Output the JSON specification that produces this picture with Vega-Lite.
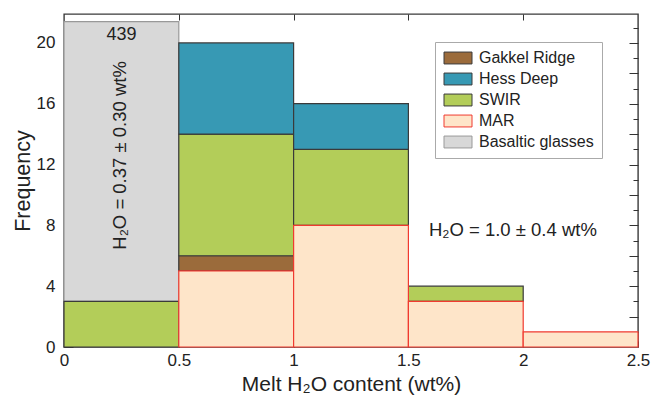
{
  "$schema": "https://vega.github.io/schema/vega-lite/v6.json",
  "width": 574,
  "height": 333,
  "autosize": {"type": "none"},
  "padding": {"left": 64, "top": 14, "right": 13, "bottom": 49},
  "config": {
    "view": {"stroke": "#3a3a3a", "strokeWidth": 1.4},
    "font": "Liberation Sans",
    "text": {"font": "Liberation Sans"}
  },
  "data": {
    "values": [
      {"bin_start": 0, "bin_end": 0.5, "low": 3, "high": 21.4, "source": "Basaltic glasses"},
      {"bin_start": 0, "bin_end": 0.5, "low": 0, "high": 3, "source": "SWIR"},
      {"bin_start": 0.5, "bin_end": 1, "low": 5, "high": 6, "source": "Gakkel Ridge"},
      {"bin_start": 0.5, "bin_end": 1, "low": 6, "high": 14, "source": "SWIR"},
      {"bin_start": 0.5, "bin_end": 1, "low": 14, "high": 20, "source": "Hess Deep"},
      {"bin_start": 1, "bin_end": 1.5, "low": 8, "high": 13, "source": "SWIR"},
      {"bin_start": 1, "bin_end": 1.5, "low": 13, "high": 16, "source": "Hess Deep"},
      {"bin_start": 1.5, "bin_end": 2, "low": 3, "high": 4, "source": "SWIR"},
      {"bin_start": 0.5, "bin_end": 1, "low": 0, "high": 5, "source": "MAR"},
      {"bin_start": 1, "bin_end": 1.5, "low": 0, "high": 8, "source": "MAR"},
      {"bin_start": 1.5, "bin_end": 2, "low": 0, "high": 3, "source": "MAR"},
      {"bin_start": 2, "bin_end": 2.5, "low": 0, "high": 1, "source": "MAR"}
    ]
  },
  "layer": [
    {
      "mark": {"type": "rect", "strokeWidth": 1.2},
      "encoding": {
        "x": {
          "field": "bin_start", "type": "quantitative",
          "scale": {"domain": [0, 2.5], "nice": false, "zero": false},
          "axis": {
            "orient": "bottom", "values": [0, 0.5, 1, 1.5, 2, 2.5], "format": "~g",
            "grid": false, "domain": false, "tickSize": -6, "tickColor": "#333",
            "labelFontSize": 17, "labelColor": "#222", "labelPadding": 11, "labelFlush": false,
            "title": "Melt H₂O content (wt%)", "titleFontSize": 21, "titleFontWeight": "normal",
            "titleColor": "#222", "titlePadding": 5
          }
        },
        "x2": {"field": "bin_end"},
        "y": {
          "field": "low", "type": "quantitative",
          "scale": {"domain": [0, 21.9], "nice": false, "zero": false},
          "axis": {
            "orient": "left",
            "values": [0,1,2,3,4,5,6,7,8,9,10,11,12,13,14,15,16,17,18,19,20,21],
            "labelExpr": "datum.value % 4 === 0 ? datum.label : ''",
            "grid": false, "domain": false,
            "tickSize": {"condition": {"test": "datum.value % 2 === 0", "value": -9}, "value": -5},
            "tickColor": "#333",
            "labelFontSize": 17, "labelColor": "#222", "labelPadding": 18,
            "title": "Frequency", "titleFontSize": 21.5, "titleFontWeight": "normal",
            "titleColor": "#222", "titlePadding": 2
          }
        },
        "y2": {"field": "high"},
        "fill": {
          "field": "source", "type": "nominal",
          "scale": {
            "domain": ["Gakkel Ridge", "Hess Deep", "SWIR", "MAR", "Basaltic glasses"],
            "range": ["#9b6b3b", "#3799b4", "#b3cd59", "#fee5c9", "#d8d8d8"]
          },
          "legend": {
            "orient": "none", "legendX": 371, "legendY": 28, "title": null,
            "padding": 8, "strokeColor": "#aaa", "fillColor": "white",
            "labelFontSize": 16, "labelColor": "#222", "labelOffset": 13,
            "symbolType": "M-2,-0.85H2V0.85H-2Z", "symbolSize": 196, "symbolOffset": 7,
            "symbolStrokeWidth": 1, "rowPadding": 5
          }
        },
        "stroke": {
          "field": "source", "type": "nominal",
          "scale": {
            "domain": ["Gakkel Ridge", "Hess Deep", "SWIR", "MAR", "Basaltic glasses"],
            "range": ["#3a3a3a", "#3a3a3a", "#3a3a3a", "#f03a30", "#999999"]
          }
        },
        "strokeDash": {
          "field": "source", "type": "nominal",
          "scale": {
            "domain": ["Gakkel Ridge", "Hess Deep", "SWIR", "MAR", "Basaltic glasses"],
            "range": [[1, 0], [1, 0], [1, 0], [1, 0], [4, 3]]
          },
          "legend": null
        }
      }
    },
    {
      "mark": {"type": "point", "opacity": 0},
      "encoding": {
        "x": {
          "field": "bin_start", "type": "quantitative",
          "scale": {"domain": [0, 2.5], "nice": false, "zero": false},
          "axis": {
            "orient": "top", "values": [0.5, 1, 1.5, 2], "labels": false, "grid": false,
            "domain": false, "tickSize": -6, "tickColor": "#333", "title": null
          }
        },
        "y": {
          "field": "low", "type": "quantitative",
          "scale": {"domain": [0, 21.9], "nice": false, "zero": false},
          "axis": {
            "orient": "right",
            "values": [1,2,3,4,5,6,7,8,9,10,11,12,13,14,15,16,17,18,19,20,21],
            "labels": false, "grid": false, "domain": false,
            "tickSize": {"condition": {"test": "datum.value % 2 === 0", "value": -9}, "value": -5},
            "tickColor": "#333", "title": null
          }
        }
      }
    },
    {
      "data": {"values": [{}]},
      "mark": {"type": "text", "text": "439", "fontSize": 18, "color": "#222", "align": "center", "baseline": "middle"},
      "encoding": {
        "x": {"datum": 0.25, "type": "quantitative", "scale": {"domain": [0, 2.5], "nice": false, "zero": false}, "axis": null},
        "y": {"datum": 20.5, "type": "quantitative", "scale": {"domain": [0, 21.9], "nice": false, "zero": false}, "axis": null}
      }
    },
    {
      "data": {"values": [{}]},
      "mark": {"type": "text", "text": "H₂O = 0.37 ± 0.30 wt%", "fontSize": 18.5, "color": "#222", "angle": 270, "align": "center", "baseline": "middle"},
      "encoding": {
        "x": {"datum": 0.245, "type": "quantitative", "scale": {"domain": [0, 2.5], "nice": false, "zero": false}, "axis": null},
        "y": {"datum": 12.6, "type": "quantitative", "scale": {"domain": [0, 21.9], "nice": false, "zero": false}, "axis": null}
      }
    },
    {
      "data": {"values": [{}]},
      "mark": {"type": "text", "text": "H₂O = 1.0 ± 0.4 wt%", "fontSize": 18.5, "color": "#222", "align": "center", "baseline": "middle"},
      "encoding": {
        "x": {"datum": 1.955, "type": "quantitative", "scale": {"domain": [0, 2.5], "nice": false, "zero": false}, "axis": null},
        "y": {"datum": 7.7, "type": "quantitative", "scale": {"domain": [0, 21.9], "nice": false, "zero": false}, "axis": null}
      }
    }
  ],
  "resolve": {"scale": {"x": "independent", "y": "independent"}, "axis": {"x": "independent", "y": "independent"}}
}
